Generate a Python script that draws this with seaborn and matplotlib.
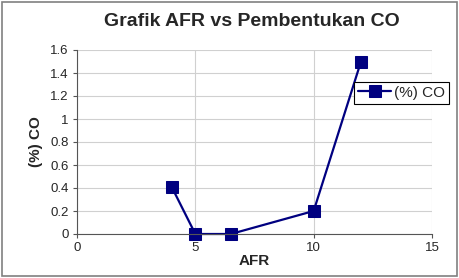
import matplotlib
matplotlib.use("Agg")
import matplotlib.pyplot as plt
import seaborn as sns
import pandas as pd
from matplotlib.patches import Rectangle

afr = [4, 5, 6.5, 10, 12]
co = [0.41, 0.0, 0.0, 0.2, 1.5]
series_name = "(%) CO"
title = "Grafik AFR vs Pembentukan CO"
xlabel = "AFR"
ylabel = "(%) CO"
xticks = [0, 5, 10, 15]
yticks = [0, 0.2, 0.4, 0.6, 0.8, 1, 1.2, 1.4, 1.6]
ytick_labels = ["0", "0.2", "0.4", "0.6", "0.8", "1", "1.2", "1.4", "1.6"]

sns.set_style("white")
plt.rcParams['font.family'] = ['Liberation Sans', 'DejaVu Sans']

df = pd.DataFrame({"AFR": afr, "CO": co})

fig = plt.figure(figsize=(4.6, 2.78), dpi=100)
ax = fig.add_axes([77/460, 44/278, (432-77)/460, (234-50)/278])

sns.lineplot(data=df, x="AFR", y="CO", ax=ax, color="#000080", marker="s",
             markersize=8, markeredgecolor="#000080", linewidth=1.6,
             label=series_name, sort=False, clip_on=False)

ax.set_xlim(0, 15)
ax.set_ylim(0, 1.6)
ax.set_xticks(xticks)
ax.set_yticks(yticks)
ax.set_yticklabels(ytick_labels)
ax.tick_params(axis='both', labelsize=9.5, length=3, width=0.8, color="#555555",
               direction='out', pad=3)
ax.tick_params(axis='x', bottom=True)
ax.tick_params(axis='y', left=True)
ax.grid(True, color="#d0d0d0", linewidth=0.8)
ax.set_axisbelow(True)
for s in ["top", "right"]:
    ax.spines[s].set_visible(False)
ax.spines["left"].set_color("#555555")
ax.spines["bottom"].set_color("#555555")
ax.spines["left"].set_linewidth(0.8)
ax.spines["bottom"].set_linewidth(0.8)

ax.set_xlabel(xlabel, fontsize=11, fontweight="bold", labelpad=0)
ax.set_ylabel(ylabel, fontsize=11, fontweight="bold", labelpad=5)
fig.text(252/460, 1 - 22/278, title, fontsize=14, fontweight="bold",
         ha="center", va="center")

leg = ax.legend(loc="upper left", bbox_to_anchor=(354/460, 1 - 82/278),
                bbox_transform=fig.transFigure, frameon=True, fancybox=False,
                framealpha=1, edgecolor="black", fontsize=11,
                handlelength=2.2, borderpad=0.25, handletextpad=0.2,
                borderaxespad=0)
leg.get_frame().set_linewidth(0.8)

fig.patches.append(Rectangle((0.004, 0.006), 0.99, 0.988, transform=fig.transFigure,
                             fill=False, edgecolor="#808080", linewidth=1.2))

fig.savefig("out.png", dpi=100)
